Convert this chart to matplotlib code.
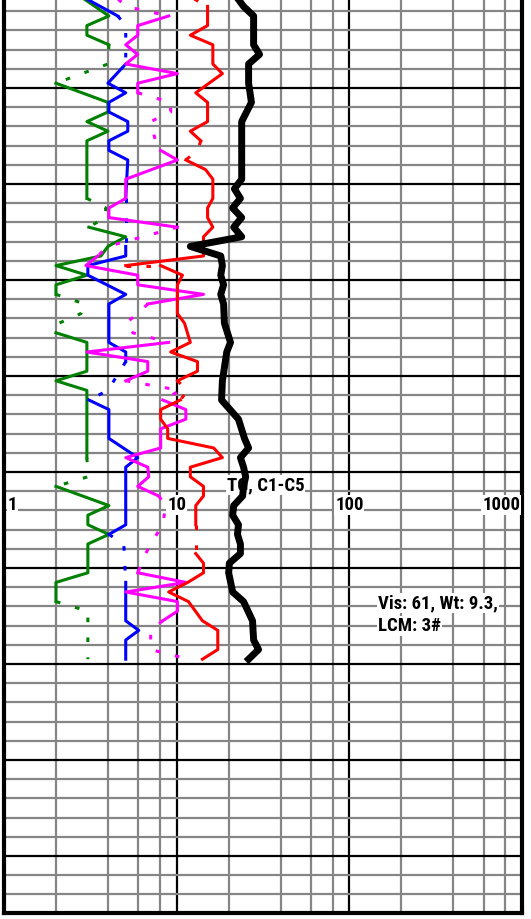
import matplotlib
matplotlib.use('Agg')
from matplotlib import pyplot as plt
import numpy as np

# depth (ft) and gas readings, each curve split in solid / dotted pieces
green = [
    ('-', [4950, 4960, 4965, 4970, 4975], [2.79, 4.05, 3.02, 3.02, 4.05]),
    (':', [4975, 4985, 4995], [4.05, 4.0, 2.0]),
    ('-', [4995, 5005, 5010, 5015, 5020, 5025, 5055], [2.0, 4.0, 4.0, 3.02, 4.0, 3.02, 3.02]),
    (':', [5055, 5060, 5065, 5070], [3.02, 3.89, 3.84, 3.10]),
    ('-', [5070, 5075, 5080, 5085, 5090, 5095, 5100, 5105], [3.10, 5.07, 4.0, 3.64, 2.0, 3.02, 2.0, 2.0]),
    (':', [5105, 5110, 5115, 5120, 5125], [2.0, 2.94, 2.79, 2.08, 2.0]),
    ('-', [5125, 5130, 5145, 5150, 5155, 5190], [2.0, 3.02, 3.02, 2.0, 3.02, 3.02]),
    (':', [5190, 5200, 5205], [3.02, 3.06, 2.0]),
    ('-', [5205, 5215, 5220, 5225, 5230, 5235, 5250, 5255, 5265], [2.0, 4.05, 3.06, 3.06, 4.05, 3.06, 3.06, 2.0, 2.0]),
    (':', [5265, 5270, 5295], [2.0, 3.06, 3.06]),
]
blue = [
    ('-', [4950, 4960], [2.86, 4.56]),
    (':', [4960, 4965, 4985], [4.56, 5.07, 5.07]),
    ('-', [4985, 4995, 5000, 5005, 5010, 5015, 5020, 5025, 5030, 5035, 5055],
     [5.07, 4.0, 5.07, 4.05, 4.05, 5.21, 5.21, 4.05, 4.05, 5.21, 5.07]),
    (':', [5055, 5080], [5.07, 5.07]),
    ('-', [5080, 5085, 5090, 5095, 5105, 5110, 5130, 5135, 5140], [5.07, 5.07, 3.06, 3.06, 5.07, 4.05, 4.05, 5.07, 5.07]),
    (':', [5140, 5155, 5160], [5.07, 4.0, 3.10]),
    ('-', [5160, 5165, 5180, 5190, 5195, 5225, 5230], [3.10, 4.05, 4.05, 5.95, 5.07, 5.07, 4.05]),
    (':', [5230, 5235, 5255], [4.05, 4.94, 5.07]),
    ('-', [5255, 5275, 5280, 5285, 5295], [5.07, 5.07, 6.03, 5.07, 5.07]),
]
magenta = [
    (':', [4950, 4955, 4960], [4.44, 5.07, 8.99]),
    ('-', [4960, 4965, 4970, 4975, 4980, 4985, 4990, 4995, 5000], [8.99, 5.95, 5.95, 5.07, 5.95, 5.07, 10.1, 5.95, 5.95]),
    (':', [5000, 5005, 5010, 5015, 5020, 5025, 5030], [5.95, 9.23, 9.23, 7.07, 7.27, 7.56, 8.08]),
    ('-', [5030, 5035, 5045, 5055, 5060, 5065, 5070], [8.08, 10.1, 5.07, 5.07, 4.05, 4.05, 10.1]),
    (':', [5070, 5080, 5085], [10.1, 4.0, 3.49]),
    ('-', [5085, 5090, 5095, 5100, 5105, 5110], [3.49, 2.98, 5.95, 5.95, 14.3, 6.80]),
    (':', [5110, 5115, 5120, 5125, 5130], [6.80, 5.95, 5.07, 5.57, 8.99]),
    ('-', [5130, 5135, 5140, 5145, 5150], [8.99, 3.02, 6.80, 6.80, 5.07]),
    (':', [5150, 5155, 5160], [5.07, 10.5, 8.30]),
    ('-', [5160, 5165, 5170, 5175, 5185, 5190, 5195, 5200, 5205, 5210],
     [8.30, 11.3, 11.3, 8.08, 8.08, 5.07, 6.80, 6.89, 5.95, 7.87]),
    (':', [5210, 5215, 5225, 5235, 5240, 5250], [7.87, 8.64, 8.30, 7.07, 6.62, 5.95]),
    ('-', [5250, 5255, 5260, 5265, 5270, 5275], [5.95, 11.3, 5.07, 10.1, 10.1, 8.30]),
    (':', [5275, 5280, 5290, 5295], [8.30, 7.07, 7.07, 11.7]),
]
red = [
    (':', [4950, 4955], [12.0, 15.1]),
    ('-', [4955, 4965, 4970, 4975, 4985, 4990, 5000, 5005, 5015, 5020, 5025],
     [15.1, 15.1, 12.0, 16.2, 16.2, 18.4, 12.9, 15.1, 15.1, 12.0, 13.8]),
    (':', [5025, 5030, 5035], [13.8, 13.2, 11.3]),
    ('-', [5035, 5040, 5045, 5055, 5060, 5065, 5070, 5075, 5085, 5090],
     [11.3, 14.7, 16.2, 16.2, 15.1, 15.1, 16.2, 14.3, 14.3, 5.07]),
    (':', [5090, 5090], [5.07, 8.08]),
    ('-', [5090, 5095, 5100, 5115, 5120, 5130, 5135, 5140, 5145, 5150],
     [8.08, 10.8, 10.1, 10.1, 11.1, 12.0, 9.23, 13.2, 13.2, 10.1]),
    (':', [5150, 5155, 5160], [10.1, 11.6, 10.5]),
    ('-', [5160, 5165, 5170, 5175, 5180, 5185, 5190, 5195, 5200, 5205, 5210, 5215, 5225],
     [10.5, 8.08, 8.08, 8.87, 8.87, 16.4, 18.4, 12.0, 12.0, 14.3, 14.3, 12.9, 12.9]),
    (':', [5225, 5240], [12.9, 12.9]),
    ('-', [5240, 5245, 5250, 5255, 5260, 5265, 5275, 5280, 5290, 5295],
     [12.9, 14.3, 14.3, 11.6, 8.99, 11.7, 14.1, 17.3, 17.3, 14.1]),
]

# total gas
tg_depth = [4950, 4955, 4960, 4975, 4980, 4985, 4995, 5005, 5010, 5015, 5045, 5050, 5055, 5060, 5065,
            5070, 5075, 5080, 5085, 5090, 5095, 5100, 5105, 5110, 5120, 5130, 5135, 5150, 5160, 5170,
            5180, 5185, 5190, 5195, 5200, 5205, 5210, 5215, 5220, 5225, 5230, 5235, 5240, 5245, 5250,
            5260, 5265, 5275, 5285, 5290, 5295]
tg = [22.2, 24.4, 27.9, 27.9, 30.2, 26.1, 26.1, 27.1, 25.4, 23.8, 23.8, 21.6, 23.4, 21.1, 23.8,
      21.4, 23.8, 12.0, 18.0, 18.4, 18.0, 18.7, 18.0, 18.7, 18.9, 20.5, 19.5, 18.4, 18.2, 22.8,
      24.7, 26.1, 23.4, 24.4, 25.1, 24.4, 24.1, 21.4, 21.1, 22.8, 22.5, 23.4, 23.4, 20.2, 20.0,
      21.1, 24.4, 27.5, 27.9, 29.8, 26.1]

scale_labels = ['1', '10', '100', '1000']
scale_pos = [1.05, 10, 100, 975]
scale_align = ['left', 'center', 'center', 'right']

fnt = ['Roboto Condensed', 'Liberation Sans', 'DejaVu Sans']

fig = plt.figure(figsize=(5.31, 9.19), dpi=100)
ax = fig.add_axes([4/531, 6/919, 518/531, 933/919])

dot = (0, (1.5, 5))
for curve, col in [(green, 'green'), (blue, 'blue'), (magenta, 'magenta'), (red, 'red')]:
    for st, d, v in curve:
        ls = '-' if st == '-' else dot
        ax.plot(v, d, color=col, lw=2.2, linestyle=ls, zorder=4)

ax.plot(tg, tg_depth, color='black', lw=5, zorder=5)

ax.set_xscale('log')
ax.set_xlim(1, 1000)
ax.set_ylim(5427.2, 4941.25)

ax.set_xticks([10, 100])
ax.set_xticks([2, 4, 6, 8, 20, 40, 60, 80, 200, 400, 600, 800], minor=True)
ax.set_yticks(np.arange(4997.5, 5420, 50))
ax.set_yticks(np.arange(4957.5, 5427, 10), minor=True)
ax.grid(which='major', color='black', lw=1.6)
ax.grid(which='minor', color='#858585', lw=1.6)
ax.set_axisbelow(True)
ax.tick_params(which='both', length=0, labelbottom=False, labelleft=False)

for s in ['left', 'right', 'bottom']:
    ax.spines[s].set_linewidth(3)
ax.spines['top'].set_visible(False)

box = dict(facecolor='white', edgecolor='none', pad=0.5)
for lab, xp, ha in zip(scale_labels, scale_pos, scale_align):
    ax.text(xp, 5214.7, lab, ha=ha, va='center', fontsize=13.5, fontweight='bold',
            family=fnt, bbox=box, zorder=3)
ax.text(19.5, 5204.3, 'TG, C1-C5', ha='left', va='center', fontsize=13.5, fontweight='bold',
        family=fnt, bbox=box, zorder=3)
ax.text(147, 5265.7, 'Vis: 61, Wt: 9.3,', ha='left', va='center', fontsize=13.5, fontweight='bold',
        family=fnt, bbox=box, zorder=3)
ax.text(147, 5277.7, 'LCM: 3#', ha='left', va='center', fontsize=13.5, fontweight='bold',
        family=fnt, bbox=box, zorder=3)

fig.savefig('out.png', dpi=100)
